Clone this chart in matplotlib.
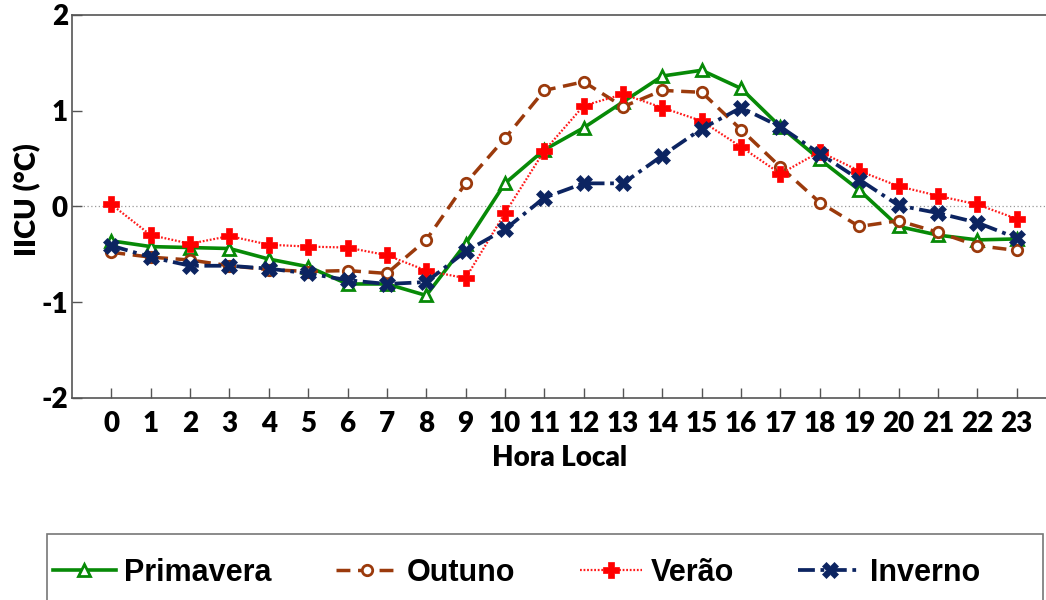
import numpy as np
import matplotlib
matplotlib.use("Agg")
import matplotlib.pyplot as plt
from matplotlib.patches import Rectangle

plt.rcParams["axes.unicode_minus"] = False

# Hourly urban heat island intensity by season
horas = np.arange(24)

primavera = [-0.36, -0.42, -0.43, -0.44, -0.55, -0.63, -0.81, -0.81, -0.93, -0.39,
             0.24, 0.59, 0.82, 1.09, 1.36, 1.42, 1.23, 0.83, 0.49, 0.17,
             -0.21, -0.30, -0.35, -0.34]
outuno = [-0.48, -0.53, -0.56, -0.62, -0.66, -0.68, -0.67, -0.70, -0.35, 0.24,
          0.71, 1.21, 1.30, 1.04, 1.21, 1.19, 0.80, 0.41, 0.04, -0.21,
          -0.15, -0.27, -0.41, -0.46]
verao = [0.02, -0.30, -0.39, -0.31, -0.40, -0.42, -0.43, -0.51, -0.67, -0.75,
         -0.07, 0.58, 1.05, 1.17, 1.03, 0.89, 0.62, 0.34, 0.57, 0.37,
         0.21, 0.11, 0.02, -0.13]
inverno = [-0.41, -0.53, -0.62, -0.62, -0.65, -0.70, -0.77, -0.81, -0.79, -0.47,
           -0.24, 0.09, 0.24, 0.24, 0.53, 0.81, 1.03, 0.83, 0.55, 0.28,
           0.01, -0.07, -0.17, -0.33]

W, H = 1046, 600
fig = plt.figure(figsize=(W / 100, H / 100), dpi=100)
ax = fig.add_axes([72 / W, 1 - 398 / H, 984 / W, (398 - 14.7) / H])

ax.axhline(0, color="#999999", lw=0.9, ls=(0, (1, 2)), zorder=1)

l1, = ax.plot(horas, primavera, color="#078a07", lw=2.6, ls="-",
              marker="^", ms=8, mfc="white", mec="#078a07", mew=2)
l2, = ax.plot(horas, outuno, color="#9b3a0c", lw=2.5, ls=(0, (4, 2.2)),
              marker="o", ms=7.5, mfc="white", mec="#9b3a0c", mew=2)
l3, = ax.plot(horas, verao, color="#ff1a1a", lw=1.6, ls=(0, (0.8, 0.8)),
              marker="P", ms=12, mfc="#ff0000", mec="#ff0000", mew=0.5)
l4, = ax.plot(horas, inverno, color="#0c2461", lw=2.7, ls=(0, (4.5, 1.5, 1, 1.5)),
              marker="X", ms=11, mfc="#0c2461", mec="#0c2461", mew=0.5)

ax.set_xlim(-1, 24)
ax.set_ylim(-2, 2)
ax.set_xticks(horas)
ax.set_yticks([-2, -1, 0, 1, 2])
ax.tick_params(direction="in", length=7, width=1, color="#555555")
ax.tick_params(axis="x", pad=9)
ax.tick_params(axis="y", pad=3)
for lab in ax.get_xticklabels() + ax.get_yticklabels():
    lab.set_fontfamily("Lato")
    lab.set_fontweight("heavy")
    lab.set_fontsize(20)
for s in ax.spines.values():
    s.set_color("#555555")
    s.set_linewidth(1.2)

ax.set_xlabel("Hora Local", fontfamily="Lato", fontweight="heavy", fontsize=20)
ax.set_ylabel("IICU (°C)", fontfamily="Lato", fontweight="heavy", fontsize=21)
ax.xaxis.set_label_coords((560 - 72) / 984, -(445 - 398) / (398 - 14.7))
ax.yaxis.set_label_coords(-(72 - 41) / 984, (398 - 200) / (398 - 14.7))

# legend box runs past the bottom edge of the figure
fig.patches.append(Rectangle((47 / W, -0.1), (1043 - 47) / W, 0.1 + 1 - 534 / H,
                             transform=fig.transFigure, fill=False,
                             edgecolor="#777777", lw=1.2))
leg = fig.legend([l1, l2, l3, l4], ["Primavera", "Outuno", "Verão", "Inverno"],
                 loc="center left", bbox_to_anchor=(53 / W, 1 - 573 / H),
                 ncol=4, borderaxespad=0, borderpad=0, frameon=False,
                 handlelength=2.05, handletextpad=0.28, columnspacing=2.1,
                 prop={"family": "Liberation Sans", "weight": "bold", "size": 22})

fig.savefig("out.png", dpi=100)
